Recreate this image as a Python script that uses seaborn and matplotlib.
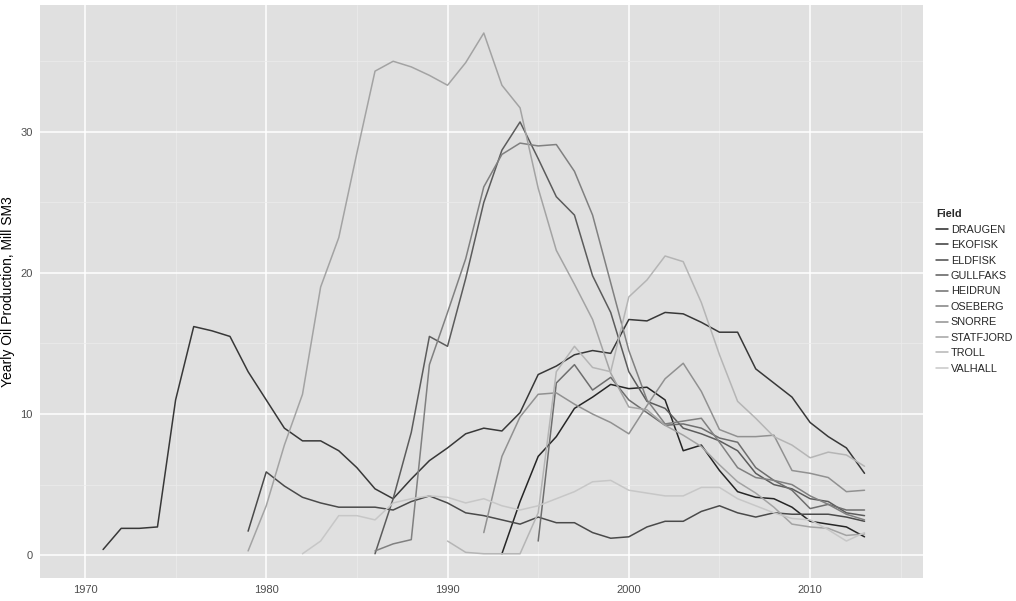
import numpy as np
import pandas as pd
import matplotlib
matplotlib.use("Agg")
import matplotlib.pyplot as plt
import seaborn as sns

fields = ["DRAUGEN", "EKOFISK", "ELDFISK", "GULLFAKS", "HEIDRUN",
          "OSEBERG", "SNORRE", "STATFJORD", "TROLL", "VALHALL"]
start_years = {"DRAUGEN": 1993, "EKOFISK": 1971, "ELDFISK": 1979, "GULLFAKS": 1986,
               "HEIDRUN": 1995, "OSEBERG": 1986, "SNORRE": 1992, "STATFJORD": 1979,
               "TROLL": 1990, "VALHALL": 1982}
production = {
    "DRAUGEN": [0.1, 3.8, 7.0, 8.4, 10.4, 11.2, 12.1, 11.8, 11.9, 11.0, 7.4, 7.8, 6.0, 4.5,
                4.1, 4.0, 3.4, 2.4, 2.2, 2.0, 1.3],
    "EKOFISK": [0.4, 1.9, 1.9, 2.0, 11.0, 16.2, 15.9, 15.5, 13.0, 11.0, 9.0, 8.1, 8.1, 7.4,
                6.2, 4.7, 4.0, 5.4, 6.7, 7.6, 8.6, 9.0, 8.8, 10.1, 12.8, 13.4, 14.2, 14.5,
                14.3, 16.7, 16.6, 17.2, 17.1, 16.5, 15.8, 15.8, 13.2, 12.2, 11.2, 9.4, 8.4,
                7.6, 5.8],
    "ELDFISK": [1.7, 5.9, 4.9, 4.1, 3.7, 3.4, 3.4, 3.4, 3.2, 3.8, 4.2, 3.7, 3.0, 2.8, 2.5,
                2.2, 2.7, 2.3, 2.3, 1.6, 1.2, 1.3, 2.0, 2.4, 2.4, 3.1, 3.5, 3.0, 2.7, 3.0,
                2.9, 2.9, 2.9, 2.7, 2.4],
    "GULLFAKS": [0.1, 4.0, 8.7, 15.5, 14.8, 19.6, 25.0, 28.7, 30.7, 28.1, 25.4, 24.1, 19.8,
                 17.2, 13.0, 10.9, 10.4, 9.0, 8.6, 8.1, 7.4, 5.8, 5.0, 4.7, 4.0, 3.8, 3.0, 2.8],
    "HEIDRUN": [1.0, 12.2, 13.5, 11.7, 12.6, 11.0, 10.1, 9.2, 9.3, 9.0, 8.3, 8.0, 6.2, 5.3,
                4.6, 3.3, 3.6, 3.2, 3.2],
    "OSEBERG": [0.3, 0.8, 1.1, 13.5, 17.2, 21.0, 26.1, 28.4, 29.2, 29.0, 29.1, 27.2, 24.1,
                19.3, 14.5, 11.0, 9.3, 9.5, 9.7, 8.0, 6.2, 5.5, 5.3, 5.0, 4.2, 3.6, 2.9, 2.5],
    "SNORRE": [1.6, 7.0, 9.8, 11.4, 11.5, 10.7, 10.0, 9.4, 8.6, 10.6, 12.5, 13.6, 11.6, 8.9,
               8.4, 8.4, 8.5, 6.0, 5.8, 5.5, 4.5, 4.6],
    "STATFJORD": [0.3, 3.5, 7.8, 11.4, 19.0, 22.5, 28.5, 34.3, 35.0, 34.6, 34.0, 33.3, 34.9,
                  37.0, 33.3, 31.7, 26.0, 21.6, 19.2, 16.7, 12.9, 10.5, 10.3, 9.2, 8.5, 7.7,
                  6.4, 5.2, 4.4, 3.4, 2.2, 2.0, 1.9, 1.4, 1.5],
    "TROLL": [1.0, 0.2, 0.1, 0.1, 0.1, 3.0, 13.0, 14.8, 13.3, 13.0, 18.3, 19.5, 21.2, 20.8,
              17.9, 14.2, 10.9, 9.7, 8.4, 7.8, 6.9, 7.3, 7.1, 6.3],
    "VALHALL": [0.1, 1.0, 2.8, 2.8, 2.5, 3.7, 4.0, 4.2, 4.1, 3.7, 4.0, 3.5, 3.2, 3.5, 4.0,
                4.5, 5.2, 5.3, 4.6, 4.4, 4.2, 4.2, 4.8, 4.8, 4.0, 3.5, 3.0, 2.6, 2.5, 1.8,
                1.0, 1.6],
}

rows = []
for f in fields:
    for i, v in enumerate(production[f]):
        rows.append((f, start_years[f] + i, v))
df = pd.DataFrame(rows, columns=["Field", "Year", "Prod"])

# grey scale, dark to light
greys = [str(v) for v in np.linspace(0.15, 0.78, 10)]

sns.set_theme(style="darkgrid", rc={"axes.facecolor": "#e0e0e0", "grid.color": "white"})
plt.rcParams['font.family'] = ['Liberation Sans', 'DejaVu Sans']
fig = plt.figure(figsize=(10.16, 6.01), dpi=100)
ax = fig.add_axes([0.039, 0.038, 0.869, 0.954])
sns.lineplot(data=df, x="Year", y="Prod", hue="Field", palette=greys, hue_order=fields,
             linewidth=1.1, ax=ax)
ax.set_xlim(1967.5, 2016.2)
ax.set_ylim(-1.63, 39.0)
ax.set_xticks([1970, 1980, 1990, 2000, 2010])
ax.set_yticks([0, 10, 20, 30])
ax.set_xticks([1975, 1985, 1995, 2005, 2015], minor=True)
ax.set_yticks([5, 15, 25, 35], minor=True)
ax.grid(which="major", color="white", linewidth=1.1)
ax.grid(which="minor", color="#ececec", linewidth=0.5)
ax.tick_params(labelsize=8, colors="#4d4d4d", length=3, width=0.6, color="#7f7f7f", pad=2)
ax.tick_params(which="minor", length=0)
ax.set_xlabel("")
ax.set_ylabel("Yearly Oil Production, Mill SM3", fontsize=10, color="black", labelpad=4)
for sp in ax.spines.values():
    sp.set_visible(False)
leg = ax.legend(title="Field", loc="center left", bbox_to_anchor=(1.015, 0.5), frameon=False,
                fontsize=7.8, title_fontsize=7.8, handlelength=1.1, handletextpad=0.3,
                labelspacing=0.5, alignment="left", borderaxespad=0, borderpad=0)
leg.get_title().set_fontweight("bold")
fig.savefig("out.png", dpi=100)
